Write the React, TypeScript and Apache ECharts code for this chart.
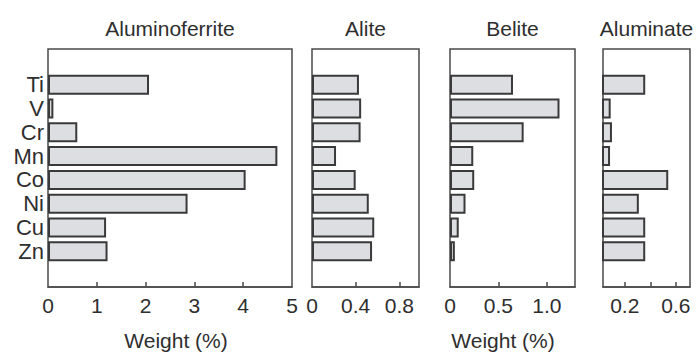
import React, { useEffect, useRef } from "react";
import * as echarts from "echarts";

const categories = ["Ti", "V", "Cr", "Mn", "Co", "Ni", "Cu", "Zn"];
const panelTitles = ["Aluminoferrite", "Alite", "Belite", "Aluminate"];
const aluminoferrite = [2.07, 0.11, 0.6, 4.7, 4.05, 2.86, 1.19, 1.22];
const alite = [0.43, 0.45, 0.445, 0.22, 0.4, 0.52, 0.57, 0.55];
const belite = [0.65, 1.13, 0.76, 0.24, 0.25, 0.16, 0.09, 0.05];
const aluminate = [0.36, 0.09, 0.1, 0.085, 0.54, 0.31, 0.36, 0.36];
const axisMins = [0, 0, 0, 0.03];
const axisMaxs = [5, 0.98, 1.29, 0.71];
const tickValues = [[1, 2, 3, 4], [0.4, 0.8], [0.5, 1.0], [0.2, 0.4, 0.6]];
const tickLabels = [[0, 1, 2, 3, 4, 5], [0, 0.4, 0.8], [0, 0.5, 1.0], [0.2, 0.6]];
const labelDecimals = [0, 1, 1, 1];
const axisTitle = "Weight (%)";

const seriesValues = [aluminoferrite, alite, belite, aluminate];

// layout (pixels)
const grids = [
  { left: 48, width: 244 },
  { left: 312, width: 107 },
  { left: 450, width: 125 },
  { left: 603, width: 87 },
];
const GRID_TOP = 49;
const GRID_HEIGHT = 238;
const FONT = "'Liberation Sans', Arial, Helvetica, sans-serif";
const LINE = "#4a4a4a";
const TEXT = "#2e2e2e";

export default function App() {
  const ref = useRef<HTMLDivElement>(null);
  useEffect(() => {
    if (!ref.current) return;
    const chart = echarts.init(ref.current, undefined, { renderer: "svg" });
    const padded = ["", ...categories, ""];
    const option: any = {
      animation: false,
      backgroundColor: "#ffffff",
      textStyle: { fontFamily: FONT },
      grid: grids.map((g) => ({
        left: g.left,
        width: g.width,
        top: GRID_TOP,
        height: GRID_HEIGHT,
        show: true,
        borderColor: LINE,
        borderWidth: 1.5,
        backgroundColor: "transparent",
        containLabel: false,
        outerBoundsMode: "none",
      })),
      xAxis: grids.map((_, i) => ({
        type: "value",
        gridIndex: i,
        min: axisMins[i],
        max: axisMaxs[i],
        splitLine: { show: false },
        axisLine: { show: true, lineStyle: { color: LINE, width: 1.5 } },
        axisTick: {
          show: true,
          inside: true,
          length: 5,
          customValues: tickValues[i],
          lineStyle: { color: LINE, width: 1.5 },
        },
        axisLabel: {
          show: true,
          customValues: tickLabels[i],
          fontSize: 21,
          fontFamily: FONT,
          color: TEXT,
          margin: 8,
          formatter: (v: number) => (v === 0 ? "0" : v.toFixed(labelDecimals[i])),
        },
      })),
      yAxis: grids.map((_, i) => ({
        type: "category",
        gridIndex: i,
        data: padded,
        inverse: true,
        axisLine: { show: false },
        axisTick: { show: false },
        splitLine: { show: false },
        axisLabel: {
          show: i === 0,
          fontSize: 22,
          fontFamily: FONT,
          color: TEXT,
          margin: 4,
          interval: 0,
        },
      })),
      series: seriesValues.map((vals, i) => ({
        type: "bar",
        xAxisIndex: i,
        yAxisIndex: i,
        data: ["-", ...vals, "-"],
        barCategoryGap: "16%",
        itemStyle: { color: "#dddee1", borderColor: "#3a3a3a", borderWidth: 2 },
        silent: true,
      })),
      graphic: [
        ...panelTitles.map((t, i) => ({
          type: "text",
          x: grids[i].left + grids[i].width / 2,
          y: 28,
          style: {
            text: t,
            fontSize: 21,
            fontFamily: FONT,
            fill: TEXT,
            textAlign: "center",
            textVerticalAlign: "middle",
          },
        })),
        {
          type: "text",
          x: 176,
          y: 340,
          style: { text: axisTitle, fontSize: 21, fontFamily: FONT, fill: TEXT, textAlign: "center", textVerticalAlign: "middle" },
        },
        {
          type: "text",
          x: 503,
          y: 340,
          style: { text: axisTitle, fontSize: 21, fontFamily: FONT, fill: TEXT, textAlign: "center", textVerticalAlign: "middle" },
        },
      ],
    };
    chart.setOption(option);
    return () => chart.dispose();
  }, []);
  return (
    <div
      ref={ref}
      style={{ position: "fixed", left: 0, top: 0, width: 697, height: 354, background: "#fff" }}
    />
  );
}
